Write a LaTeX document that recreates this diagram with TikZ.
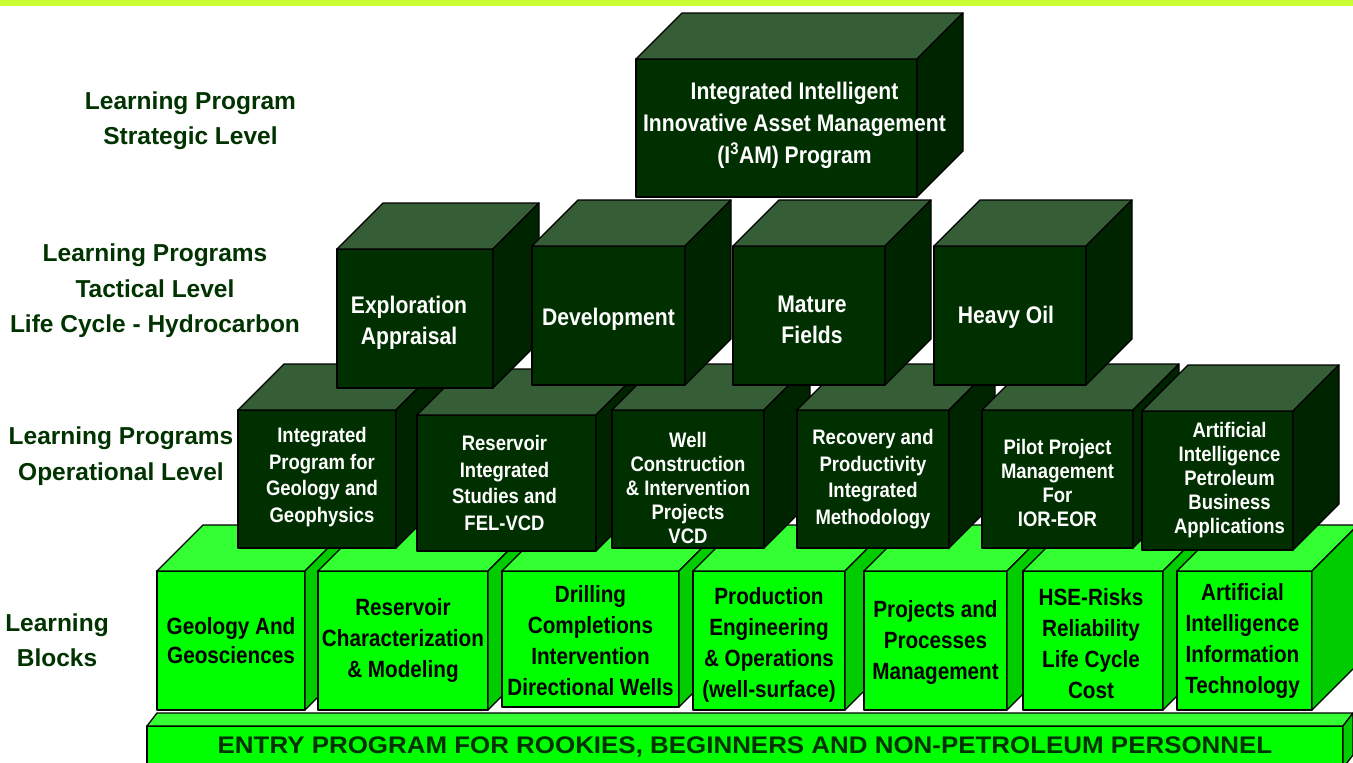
\documentclass[tikz,border=0pt]{standalone}
\usepackage{fontspec}
\setmainfont{Liberation Sans}
\newfontfamily\narrowfont{Liberation Sans}[FakeStretch=0.88]
\newfontfamily\entryfont{Liberation Sans}[FakeStretch=1.08]
\definecolor{dkfrontc}{RGB}{0,48,0}
\definecolor{dktopc}{RGB}{54,94,54}
\definecolor{dkrightc}{RGB}{0,36,0}
\definecolor{grfrontc}{RGB}{0,255,0}
\definecolor{grtopc}{RGB}{51,255,51}
\definecolor{grrightc}{RGB}{0,204,0}
\definecolor{lblc}{RGB}{0,51,0}
\definecolor{topbarc}{RGB}{204,255,51}
\tikzset{
  face/.style={draw=black, line width=1.3pt, line join=round},
  dkF/.style={face, fill=dkfrontc}, dkT/.style={face, fill=dktopc}, dkR/.style={face, fill=dkrightc},
  grF/.style={face, fill=grfrontc}, grT/.style={face, fill=grtopc}, grR/.style={face, fill=grrightc},
  dkText/.style={text=white, align=center, inner sep=0pt},
  grText/.style={text=black, align=center, inner sep=0pt},
  lbl/.style={text=lblc, align=center, font=\bfseries\fontsize{24.5}{35.5}\selectfont},
}
% #1 extra text options, #2 name, #3 kind, #4 x1, #5 y1, #6 x2, #7 y2, #8 text
\newcommand\mycube[8][]{%
  \node[#3F, inner sep=0pt, outer sep=0pt, anchor=north west,
        minimum width={#6-#4}, minimum height={#7-#5}] (#2) at (#4,#5) {};
  \filldraw[#3T] (#2.north west) -- ++(\dx,-\dy) -- ++({#6-#4},0) -- (#2.north east) -- cycle;
  \filldraw[#3R] (#2.north east) -- ++(\dx,-\dy) -- ++(0,{#7-#5}) -- (#2.south east) -- cycle;
  \node[#3Text, font=\narrowfont\bfseries\fontsize{\fs}{\bs}\selectfont, #1] (#2t) at (#2.center) {#8};
}
\begin{document}
\begin{tikzpicture}[x=1pt,y=-1pt]
\useasboundingbox (0,0) rectangle (1353,763);
\clip (0,0) rectangle (1353,763);
\fill[white] (0,0) rectangle (1353,763);
\fill[topbarc] (0,0) rectangle (1353,6);

% entry bar
\def\dx{10}\def\dy{13}\def\fs{24}\def\bs{28}
\mycube[font=\entryfont\bfseries\fontsize{24}{28}\selectfont, text=lblc]{entry}{gr}{147}{726}{1343}{768}{ENTRY PROGRAM FOR ROOKIES, BEGINNERS AND NON-PETROLEUM PERSONNEL}

% learning blocks
\def\dx{46}\def\dy{46}\def\fs{23.5}\def\bs{31}
\mycube[font=\narrowfont\bfseries\fontsize{23.5}{28.5}\selectfont]{geo}{gr}{157}{571}{305}{710}{Geology And\\Geosciences}
\mycube{resc}{gr}{318}{571}{488}{710}{Reservoir\\Characterization\\\& Modeling}
\mycube[yshift=-2pt]{drill}{gr}{502}{571}{679}{707}{Drilling\\Completions\\Intervention\\Directional Wells}
\mycube[yshift=-4pt]{prod}{gr}{693}{571}{845}{710}{Production\\Engineering\\\& Operations\\(well-surface)}
\mycube[yshift=-2pt]{proj}{gr}{864}{571}{1007}{710}{Projects and\\Processes\\Management}
\mycube[yshift=-3pt, xshift=-2pt]{hse}{gr}{1023}{571}{1163}{710}{HSE-Risks\\Reliability\\Life Cycle\\Cost}
\mycube[xshift=-2pt]{aiit}{gr}{1177}{571}{1312}{710}{Artificial\\Intelligence\\Information\\Technology}

% operational level
\def\fs{21}\def\bs{26.5}
\mycube[yshift=2pt, xshift=5pt]{ipgg}{dk}{238}{410}{396}{548}{Integrated\\Program for\\Geology and\\Geophysics}
\mycube[xshift=-2pt]{risf}{dk}{417}{415}{596}{551}{Reservoir\\Integrated\\Studies and\\FEL-VCD}
\def\bs{24}
\mycube[yshift=-9pt]{wcip}{dk}{612}{410}{764}{548}{Well\\Construction\\\& Intervention\\Projects\\VCD}
\def\bs{26.5}
\mycube{rpim}{dk}{797}{410}{949}{548}{Recovery and\\Productivity\\Integrated\\Methodology}
\def\bs{24}
\mycube[yshift=-4pt]{ppm}{dk}{982}{410}{1133}{548}{Pilot Project\\Management\\For\\IOR-EOR}
\mycube[xshift=12pt]{aipb}{dk}{1142}{411}{1293}{550}{Artificial\\Intelligence\\Petroleum\\Business\\Applications}

% tactical level
\def\fs{24}\def\bs{31}
\mycube[yshift=-4pt, xshift=-6pt]{expl}{dk}{337}{249}{493}{388}{Exploration\\Appraisal}
\mycube[yshift=-4pt]{devl}{dk}{532}{246}{685}{385}{Development}
\mycube[yshift=-4pt, xshift=3pt]{matf}{dk}{733}{246}{885}{385}{Mature\\Fields}
\mycube[yshift=-2pt, xshift=-4pt]{hvoi}{dk}{934}{246}{1086}{385}{Heavy Oil}

% strategic level
\def\bs{32}
\mycube[xshift=18pt, yshift=3pt]{iiam}{dk}{636}{59}{917}{197}{Integrated Intelligent\\Innovative Asset Management\\(I\textsuperscript{3}AM) Program}

% level labels
\node[lbl] (l1) at (190.5,120.5) {Learning Program\\Strategic Level};
\node[lbl] (l2) at (155,291) {Learning Programs\\Tactical Level\\Life Cycle - Hydrocarbon};
\node[lbl] (l3) at (121,456) {Learning Programs\\Operational Level};
\node[lbl] (l4) at (57,640) {Learning\\Blocks};
\end{tikzpicture}
\end{document}
